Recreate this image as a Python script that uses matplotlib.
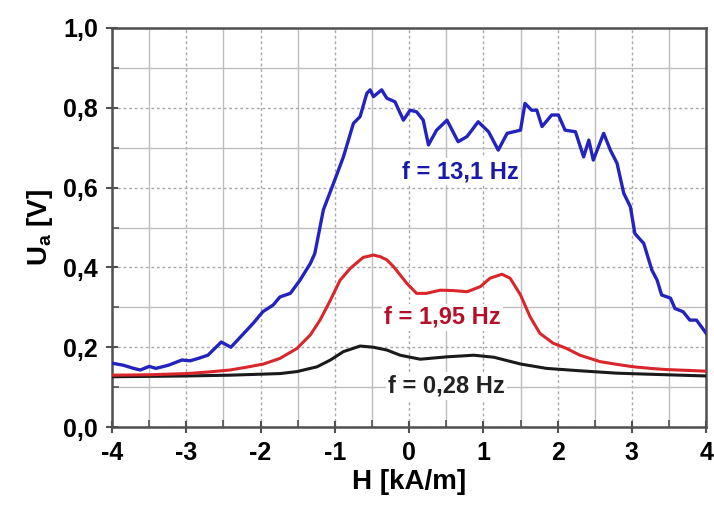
import numpy as np
import matplotlib
matplotlib.use("Agg")
from matplotlib import pyplot as plt
from matplotlib.ticker import MultipleLocator

plt.rcParams['font.family'] = ['Liberation Sans', 'DejaVu Sans']
plt.rcParams['mathtext.fontset'] = 'custom'
plt.rcParams['mathtext.bf'] = 'Liberation Sans:bold'
plt.rcParams['mathtext.rm'] = 'Liberation Sans'

# f = 13,1 Hz (blue)
h_blue = [-4.0, -3.85, -3.71, -3.62, -3.5, -3.41, -3.24, -3.06, -2.95, -2.84, -2.71,
          -2.53, -2.4, -2.25, -2.1, -1.97, -1.83, -1.74, -1.6, -1.47, -1.33, -1.27,
          -1.155, -1.02, -0.885, -0.75, -0.66, -0.57, -0.525, -0.48, -0.37, -0.30,
          -0.19, -0.077, 0.013, 0.10, 0.19, 0.26, 0.37, 0.51, 0.66, 0.78, 0.93,
          1.07, 1.20, 1.32, 1.50, 1.56, 1.65, 1.72, 1.79, 1.92, 2.01, 2.10, 2.24,
          2.35, 2.42, 2.48, 2.62, 2.71, 2.80, 2.89, 2.98, 3.04, 3.16, 3.27, 3.34,
          3.40, 3.52, 3.58, 3.69, 3.78, 3.87, 4.0]
u_blue = [0.16, 0.155, 0.147, 0.143, 0.152, 0.147, 0.155, 0.168, 0.166, 0.172, 0.18,
          0.213, 0.20, 0.23, 0.26, 0.289, 0.306, 0.326, 0.335, 0.368, 0.41, 0.435,
          0.544, 0.61, 0.677, 0.761, 0.778, 0.836, 0.845, 0.828, 0.845, 0.824,
          0.815, 0.769, 0.794, 0.79, 0.769, 0.707, 0.744, 0.769, 0.715, 0.728, 0.765,
          0.74, 0.694, 0.736, 0.744, 0.811, 0.794, 0.794, 0.753, 0.782, 0.782, 0.744, 0.74,
          0.677, 0.719, 0.669, 0.736, 0.694, 0.661, 0.586, 0.552, 0.485, 0.46, 0.393, 0.368,
          0.331, 0.323, 0.297, 0.289, 0.268, 0.268, 0.235]

# f = 1,95 Hz (red)
h_red = [-4.0, -3.5, -3.0, -2.7, -2.41, -2.19, -1.96, -1.74, -1.51, -1.33, -1.20,
         -1.06, -0.93, -0.79, -0.62, -0.48, -0.39, -0.30, -0.21, -0.03, 0.10, 0.23,
         0.42, 0.60, 0.78, 0.96, 1.09, 1.25, 1.36, 1.50, 1.63, 1.76, 1.94, 2.12,
         2.30, 2.57, 2.80, 3.02, 3.25, 3.47, 3.75, 4.0]
u_red = [0.13, 0.131, 0.134, 0.138, 0.143, 0.15, 0.158, 0.172, 0.197, 0.231, 0.268,
         0.318, 0.368, 0.398, 0.425, 0.431, 0.427, 0.419, 0.402, 0.36, 0.335, 0.335,
         0.343, 0.342, 0.339, 0.352, 0.373, 0.383, 0.373, 0.331, 0.276, 0.235, 0.21, 0.197,
         0.18, 0.164, 0.157, 0.151, 0.147, 0.144, 0.142, 0.14]

# f = 0,28 Hz (black)
h_black = [-4.0, -3.0, -2.41, -1.74, -1.51, -1.24, -1.06, -0.885, -0.66, -0.48, -0.30,
           -0.12, 0.15, 0.51, 0.87, 1.14, 1.50, 1.85, 2.30, 2.8, 3.3, 4.0]
u_black = [0.126, 0.128, 0.13, 0.134, 0.139, 0.151, 0.168, 0.189, 0.203, 0.2, 0.193,
           0.18, 0.17, 0.176, 0.18, 0.175, 0.158, 0.147, 0.141, 0.135, 0.132, 0.128]

labels = ['f = 13,1 Hz', 'f = 1,95 Hz', 'f = 0,28 Hz']

fig = plt.figure(figsize=(7.14, 5.09), dpi=100)
ax = fig.add_axes([0.157, 0.161, 0.832, 0.784])

ax.plot(h_black, u_black, color='#1a1a1a', lw=2.2, zorder=3)
ax.plot(h_red, u_red, color='#d8262a', lw=2.2, zorder=3)
ax.plot(h_blue, u_blue, color='#2323c0', lw=2.4, zorder=4)

ax.set_xlim(-4, 4)
ax.set_ylim(0, 1.0)
ax.xaxis.set_major_locator(MultipleLocator(1))
ax.xaxis.set_minor_locator(MultipleLocator(0.5))
ax.yaxis.set_major_locator(MultipleLocator(0.2))
ax.yaxis.set_minor_locator(MultipleLocator(0.1))
ax.yaxis.set_major_formatter(plt.FuncFormatter(lambda v, p: ('%.1f' % v).replace('.', ',')))
ax.xaxis.set_major_formatter(plt.FuncFormatter(lambda v, p: '%d' % round(v)))

ax.grid(which='major', color='#a8a8a8', ls=(0, (2, 2)), lw=1)
ax.grid(which='minor', color='#bdbdbd', ls='-', lw=1)
ax.set_axisbelow(True)

for s in ax.spines.values():
    s.set_color('#505050')
    s.set_linewidth(1.8)

ax.tick_params(which='major', direction='inout', length=8, width=1.5, color='#505050',
               labelsize=18, pad=6)
ax.tick_params(which='minor', direction='in', length=5, width=1.2, color='#505050')
for t in ax.get_xticklabels() + ax.get_yticklabels():
    t.set_fontweight('bold')

ax.set_xlabel('H [kA/m]', fontsize=20, fontweight='bold', labelpad=3)
ax.set_ylabel(r'$\mathbf{U}_\mathbf{a}$ [V]', fontsize=20, fontweight='bold', labelpad=6)

box = dict(facecolor='white', edgecolor='none', pad=1.5)
ax.text(0.69, 0.64, labels[0], color='#1a1aa8', fontsize=17, fontweight='bold',
        ha='center', va='center', bbox=box, zorder=5)
ax.text(0.45, 0.275, labels[1], color='#b5102a', fontsize=17, fontweight='bold',
        ha='center', va='center', bbox=box, zorder=5)
ax.text(0.5, 0.103, labels[2], color='#222222', fontsize=17, fontweight='bold',
        ha='center', va='center', bbox=box, zorder=5)

fig.savefig('out.png', dpi=100)
